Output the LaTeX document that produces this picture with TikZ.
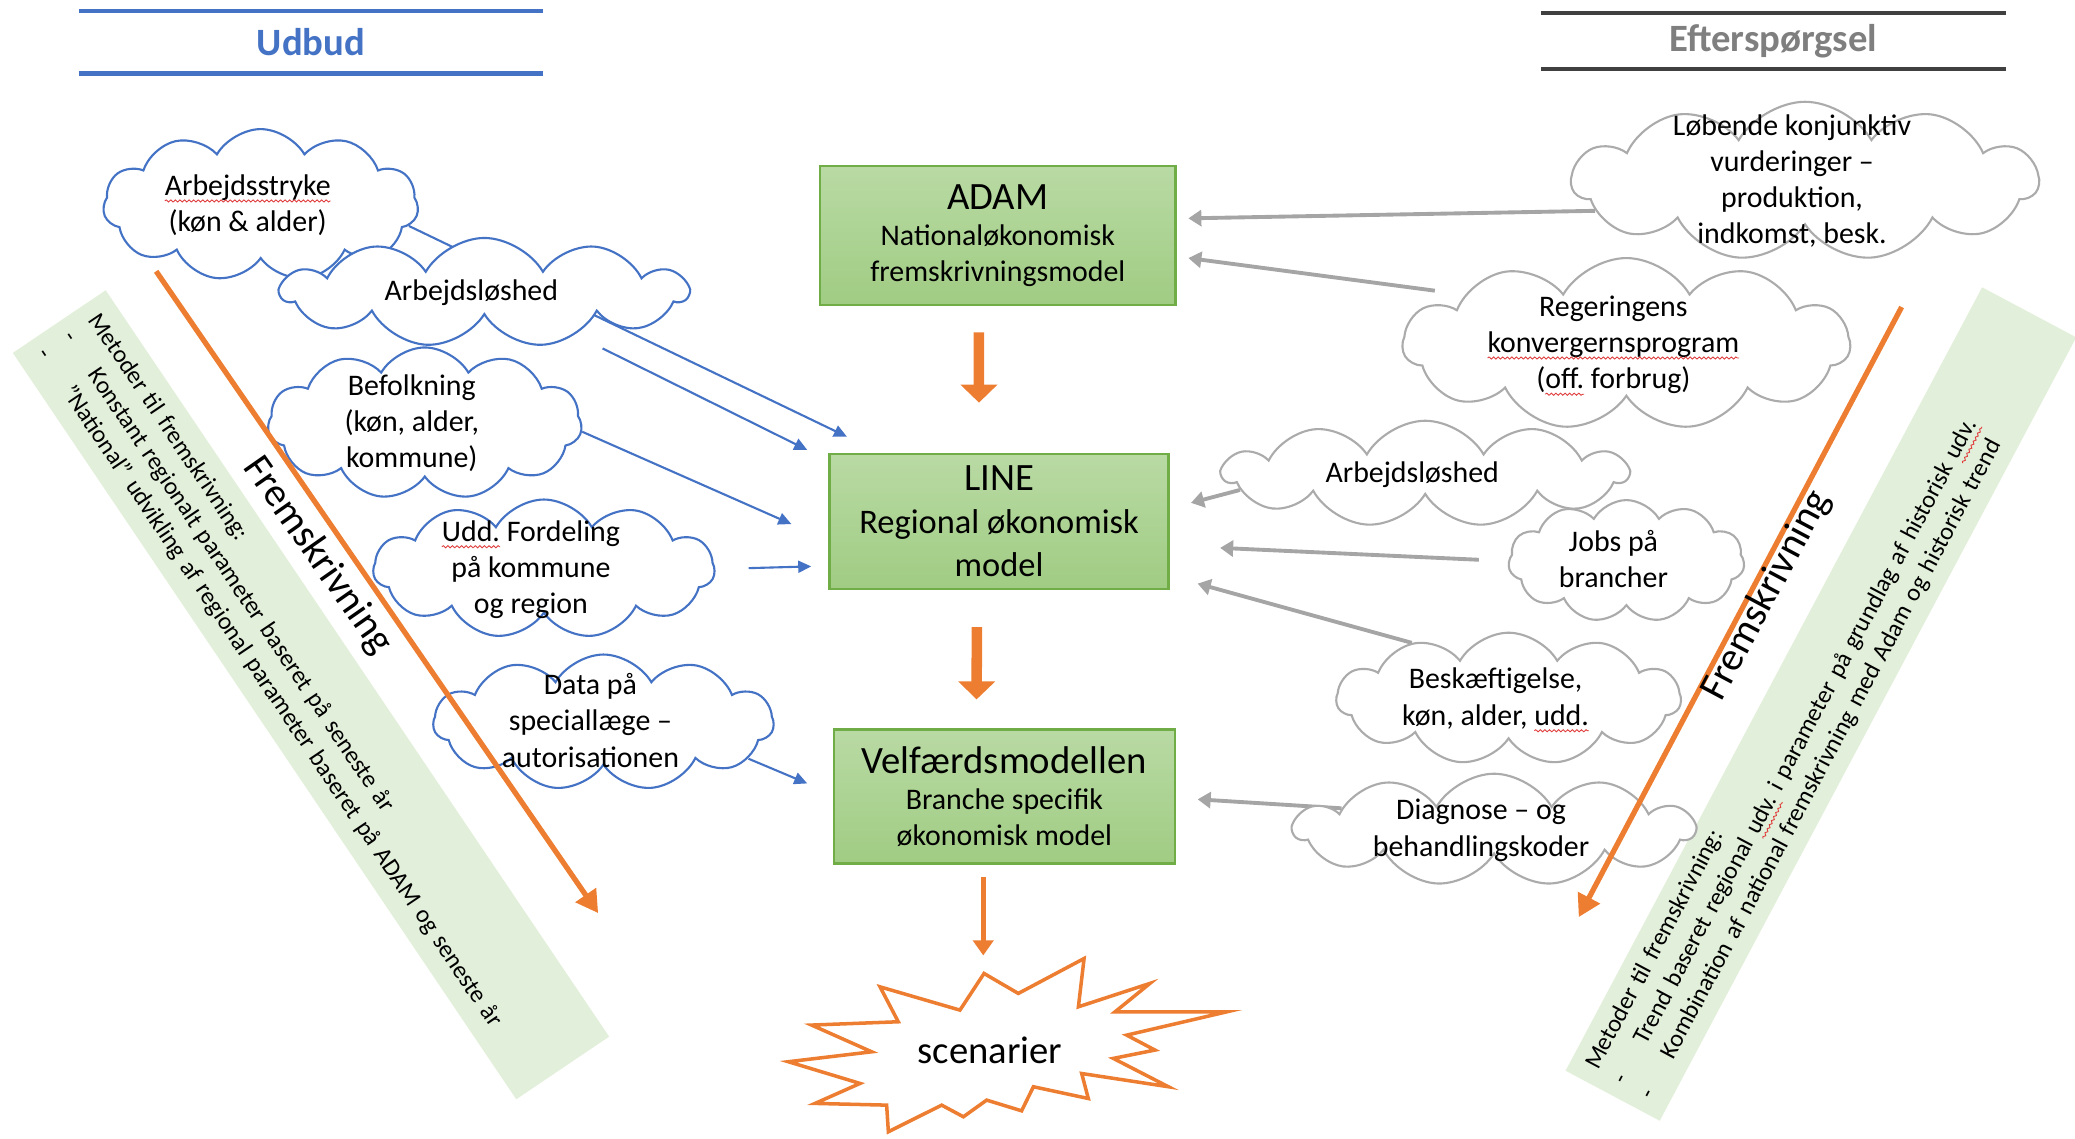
\documentclass[tikz,border=0pt]{standalone}
\usepackage{fontspec}
\setmainfont{Carlito}
\usetikzlibrary{arrows.meta, shapes.symbols, decorations.pathmorphing, positioning}
\definecolor{udbudblue}{HTML}{4472C4}
\definecolor{orangeline}{HTML}{ED7D31}
\definecolor{arrowgray}{HTML}{A5A5A5}
\definecolor{cloudgray}{HTML}{ABABAB}
\definecolor{headgray}{HTML}{7F7F7F}
\definecolor{linegray}{HTML}{404040}
\definecolor{bandgreen}{HTML}{E2EFDA}
\definecolor{boxtop}{HTML}{B9DAA4}
\definecolor{boxbottom}{HTML}{A0CC83}
\definecolor{boxborder}{HTML}{70AD47}
\definecolor{spellred}{HTML}{E03C3C}
\pgfdeclarelayer{background}
\pgfsetlayers{background,main}
\newlength{\stavelen}
\newcommand{\cloudtext}[1]{\makebox[0pt]{\smash{\raisebox{-2.3pt}{\begin{tabular}{@{}c@{}}#1\end{tabular}}}\hspace*{0.26cm}}}
\newcommand{\stave}[1]{\settowidth{\stavelen}{#1}#1\tikz[overlay, baseline = 0pt]\draw[spellred, line width = 0.25pt, decorate, decoration = {snake, amplitude = 0.3pt, segment length = 1.3pt}] (-\stavelen, -1.6pt) -- (0pt, -1.6pt);}
\tikzset{bluecloud/.style = {shape = cloud, cloud puffs = 11, cloud puff arc = 120, cloud ignores aspect, draw = udbudblue, fill = white, line width = 0.6pt, inner sep = 0pt, font = \fontsize{8.5}{10.3}\selectfont}}
\tikzset{graycloud/.style = {bluecloud, draw = cloudgray}}
\tikzset{model/.style = {rectangle, draw = boxborder, line width = 0.7pt, top color = boxtop, bottom color = boxbottom, align = center, inner sep = 0pt, font = \fontsize{8.5}{10.3}\selectfont}}
\tikzset{band/.style = {rectangle, fill = bandgreen, align = left, inner xsep = 0.15cm, font = \fontsize{7}{8.8}\selectfont}}
\tikzset{header/.style = {minimum width = 4.63cm, minimum height = 0.61cm, inner sep = 0pt, font = \fontsize{11}{13}\selectfont\bfseries}}
\tikzset{blueedge/.style = {draw = udbudblue, line width = 0.6pt, -{Triangle[width = 0.12cm, length = 0.13cm]}}}
\tikzset{grayedge/.style = {draw = arrowgray, line width = 1.1pt, -{Triangle[width = 0.16cm, length = 0.13cm]}}}
\tikzset{blockarrow/.style = {draw = orangeline, line width = 3pt, -{Triangle[width = 0.36cm, length = 0.18cm]}}}
\tikzset{trendarrow/.style = {draw = orangeline, line width = 1.5pt, -{Triangle[width = 0.24cm, length = 0.22cm]}}}
\tikzset{resultarrow/.style = {draw = orangeline, line width = 1.5pt, -{Triangle[width = 0.2cm, length = 0.15cm]}}}
\tikzset{flowlabel/.style = {inner sep = 1pt, font = \fontsize{11.5}{13}\selectfont}}

\begin{document}
\begin{tikzpicture}[x = 0.013233cm, y = -0.013233cm]
	\useasboundingbox (0, 0) rectangle (1568, 860);

	\node[band, rotate = -56, minimum width = 9.0cm, minimum height = 1.12cm, text width = 8.7cm] (venstreband) at (235, 525) {Metoder til fremskrivning:\\\makebox[0.45cm][l]{-}Konstant regionalt parameter baseret på seneste år\\\makebox[0.45cm][l]{-}”National” udvikling af regional parameter baseret på ADAM og seneste år};
	\node[band, rotate = 62, minimum width = 8.87cm, minimum height = 1.06cm, text width = 8.57cm] (hoejreband) at (1376, 532) {Metoder til fremskrivning:\\\makebox[0.45cm][l]{-}Trend baseret regional \stave{udv.} i parameter på grundlag af historisk \stave{udv.}\\\makebox[0.45cm][l]{-}Kombination af national fremskrivning med Adam og historisk trend};

	\node[header, text = udbudblue] (udbud) at (235, 32) {Udbud};
	\draw[udbudblue, line width = 1.2pt] (udbud.north west) to (udbud.north east);
	\draw[udbudblue, line width = 1.2pt] (udbud.south west) to (udbud.south east);
	\node[header, text = headgray] (efterspoergsel) at (1340, 31) {Efterspørgsel};
	\draw[linegray, line width = 1.2pt] ([yshift = -0.03cm]efterspoergsel.north west) to ([yshift = -0.03cm]efterspoergsel.north east);
	\draw[linegray, line width = 1.2pt] ([yshift = 0.03cm]efterspoergsel.south west) to ([yshift = 0.03cm]efterspoergsel.south east);

	\node[bluecloud, minimum width = 3.15cm, minimum height = 1.52cm] (arbstyrke) at (197, 155) {\cloudtext{\stave{Arbejdsstryke}\\(køn \& alder)}};
	\node[bluecloud, minimum width = 4.06cm, minimum height = 1.09cm] (ledighed) at (366, 221) {\cloudtext{Arbejdsløshed}};
	\node[bluecloud, minimum width = 3.14cm, minimum height = 1.52cm] (befolkning) at (321, 320) {\cloudtext{Befolkning\\(køn, alder,\\kommune)}};
	\node[bluecloud, minimum width = 3.41cm, minimum height = 1.39cm] (uddannelse) at (411, 430) {\cloudtext{\stave{Udd.} Fordeling\\på kommune\\og region}};
	\node[bluecloud, minimum width = 3.40cm, minimum height = 1.36cm] (speciallaege) at (456, 546) {\cloudtext{Data på\\speciallæge –\\autorisationen}};

	\node[graycloud, minimum width = 4.66cm, minimum height = 1.59cm] (konjunktur) at (1364, 137) {\cloudtext{Løbende konjunktiv\\vurderinger –\\produktion,\\indkomst, besk.}};
	\node[graycloud, minimum width = 4.47cm, minimum height = 1.72cm] (regering) at (1229, 260) {\cloudtext{Regeringens\\\stave{konvergernsprogram}\\(\stave{off.} forbrug)}};
	\node[graycloud, minimum width = 4.04cm, minimum height = 1.06cm] (ledighed2) at (1077, 358) {\cloudtext{Arbejdsløshed}};
	\node[graycloud, minimum width = 2.36cm, minimum height = 1.22cm] (jobs) at (1229, 424) {\cloudtext{Jobs på\\brancher}};
	\node[graycloud, minimum width = 3.44cm, minimum height = 1.32cm] (beskaeftigelse) at (1140, 528) {\cloudtext{Beskæftigelse,\\køn, alder, \stave{udd.}}};
	\node[graycloud, minimum width = 4.0cm, minimum height = 1.12cm] (diagnose) at (1129, 627) {\cloudtext{Diagnose – og\\behandlingskoder}};

	\node[model, minimum width = 3.55cm, minimum height = 1.39cm] (adam) at (754, 178) {{\fontsize{11}{13}\selectfont ADAM}\\Nationaløkonomisk\\fremskrivningsmodel};
	\node[model, minimum width = 3.39cm, minimum height = 1.35cm, font = \fontsize{9.8}{12.2}\selectfont] (linemodel) at (755, 394) {{\fontsize{11}{13}\selectfont LINE}\\Regional økonomisk\\model};
	\node[model, minimum width = 3.41cm, minimum height = 1.34cm] (velfaerd) at (759, 602) {{\fontsize{11}{13}\selectfont Velfærdsmodellen}\\Branche specifik\\økonomisk model};

	\draw[draw = orangeline, line width = 1pt, fill = white] (743.6, 735.6) -- (769.5, 750.7) -- (819.2, 724.3) -- (814.9, 760.8) -- (869.0, 743.1) -- (842.6, 764.6) -- (927.0, 764.6) -- (851.4, 782.2) -- (872.8, 793.5) -- (841.3, 799.8) -- (882.9, 821.2) -- (817.4, 811.2) -- (822.4, 830.1) -- (780.9, 821.2) -- (772.0, 839.4) -- (745.6, 831.3) -- (728.0, 843.9) -- (711.6, 835.1) -- (671.3, 855.2) -- (670.0, 835.1) -- (615.9, 833.8) -- (649.9, 818.7) -- (595.7, 802.3) -- (658.7, 794.8) -- (613.3, 774.6) -- (678.8, 772.1) -- (665.0, 745.7) -- (725.4, 763.3) -- cycle;
	\node[font = \fontsize{11}{13}\selectfont] (scenarier) at (748, 794) {scenarier};

	\coordinate (tipstyrke) at (640, 330);
	\coordinate (tipledighed) at (610, 340);
	\coordinate (tipbefolkning) at (598, 396);
	\coordinate (tipudd) at (613, 428);
	\coordinate (tipdata) at (610, 592);
	\coordinate (tipkonj) at (898, 165);
	\coordinate (tipreg) at (898, 195);
	\coordinate (tipledighed2) at (900, 380);
	\coordinate (tipjobs) at (922, 414);
	\coordinate (tipbesk) at (905, 441);
	\coordinate (tipdiag) at (905, 604);
	\coordinate (scentop) at (743, 722);
	\coordinate (venstrestart) at (118, 205);
	\coordinate (venstreslut) at (452, 690);
	\coordinate (hoejrestart) at (1437, 232);
	\coordinate (hoejreslut) at (1193, 693);

	\begin{pgfonlayer}{background}
		\draw[blueedge] (arbstyrke.-8) to (tipstyrke);
		\draw[blueedge, shorten < = 0.3cm] (ledighed.-25) to (tipledighed);
		\draw[blueedge] (befolkning.-3) to (tipbefolkning);
		\draw[blueedge, shorten < = 0.33cm] (uddannelse.east) to (tipudd);
		\draw[blueedge] (speciallaege.-14) to (tipdata);
		\draw[grayedge] (konjunktur.188) to (tipkonj);
		\draw[grayedge, shorten < = 0.3cm] (regering.163) to (tipreg);
		\draw[grayedge] (ledighed2.185) to (tipledighed2);
		\draw[grayedge, shorten < = 0.29cm] (jobs.west) to (tipjobs);
		\draw[grayedge] (beskaeftigelse.150) to (tipbesk);
		\draw[grayedge] (diagnose.172) to (tipdiag);
	\end{pgfonlayer}

	\draw[blockarrow, shorten < = 0.26cm, shorten > = 0.5cm] ([xshift = -0.19cm]adam.south) to ([xshift = -0.2cm]linemodel.north);
	\draw[blockarrow, shorten < = 0.37cm, shorten > = 0.29cm] ([xshift = -0.22cm]linemodel.south) to ([xshift = -0.28cm]velfaerd.north);
	\draw[resultarrow, shorten < = 0.12cm] (velfaerd.south -| scentop) to (scentop);

	\draw[trendarrow] (venstrestart) to (venstreslut);
	\draw[trendarrow] (hoejrestart) to (hoejreslut);
	\node[flowlabel, rotate = -55] (venstrefrem) at (240, 420) {Fremskrivning};
	\node[flowlabel, rotate = 62] (hoejrefrem) at (1335, 450) {Fremskrivning};
\end{tikzpicture}
\end{document}
